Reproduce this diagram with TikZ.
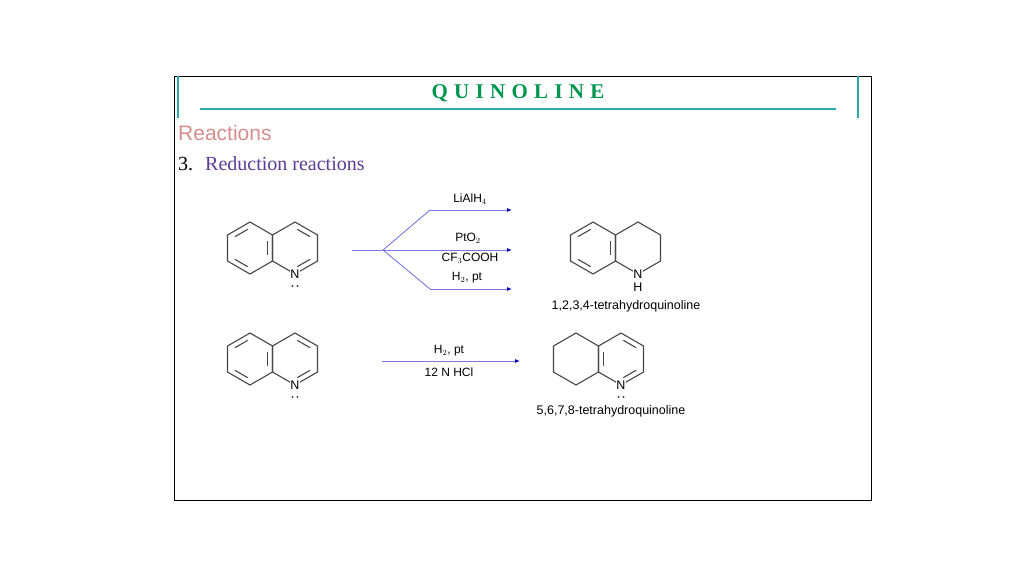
\documentclass[tikz,border=0pt]{standalone}
\usepackage{fontspec}
\setmainfont{Liberation Serif}
\setsansfont{Liberation Sans}
\usetikzlibrary{calc,arrows.meta}
\definecolor{teal1}{RGB}{40,170,180}
\definecolor{titlegreen}{RGB}{0,150,80}
\definecolor{pinkred}{RGB}{215,140,140}
\definecolor{purp}{RGB}{90,60,150}
\definecolor{arrblue}{RGB}{120,120,225}
\definecolor{bondgray}{RGB}{70,70,70}
\tikzset{
  bond/.style={draw=bondgray, line width=1.1pt},
  atom/.style={fill=white, inner sep=0.8pt, font=\sffamily\fontsize{12.5}{12.5}\selectfont},
  lpdot/.style={circle, fill=bondgray, inner sep=0, minimum size=2.2pt},
  reag/.style={font=\sffamily\fontsize{12}{12}\selectfont},
  prod/.style={font=\sffamily\fontsize{12.5}{12.5}\selectfont},
  rxn/.style={draw=arrblue, line width=0.9pt},
  rxnarr/.style={rxn, -{Latex[length=5pt,width=4pt,color=blue!70!black]}},
}
% hexagon, pointy top, radius 26
\newcommand{\hexring}[2]{\draw[bond] ($(#1,#2)+(270:26)$) \foreach \a in {330,30,90,150,210} {-- ($(#1,#2)+(\a:26)$)} -- cycle;}
% inner double line between two vertex angles
\newcommand{\dblbond}[4]{\draw[bond] ($($(#1,#2)+(#3:20)$)!0.13!($(#1,#2)+(#4:20)$)$) -- ($($(#1,#2)+(#3:20)$)!0.87!($(#1,#2)+(#4:20)$)$);}
% lone pair under an atom
\newcommand{\lonepair}[2]{\node[lpdot] at (#1-2.5,#2) {}; \node[lpdot] at (#1+2.5,#2) {};}
\begin{document}
\begin{tikzpicture}[x=1pt,y=-1pt]
\useasboundingbox[fill=white] (0,0) rectangle (1024,576);

% frame and title
\draw[black, line width=0.6pt] (174,76) rectangle (871,500);
\draw[teal1, line width=1.4pt] (178,76) -- (178,118) (858,76) -- (858,118);
\draw[teal1, line width=1.6pt] (200,109) -- (836,109);
\node[titlegreen, font=\addfontfeature{LetterSpace=30}\fontsize{21}{21}\selectfont\bfseries] (title) at (518,93) {QUINOLINE};
\node[anchor=west, pinkred, inner sep=0, font=\sffamily\fontsize{21}{21}\selectfont] (sect) at (178,133) {Reactions};
\node[anchor=west, inner sep=0, font=\fontsize{20}{20}\selectfont] (item) at (178,164) {3.\hspace{12pt}\textcolor{purp}{Reduction reactions}};

% quinoline (row 1)
\hexring{250}{248} \hexring{295}{248}
\dblbond{250}{248}{270}{210} \dblbond{250}{248}{150}{90} \dblbond{250}{248}{330}{30}
\dblbond{295}{248}{270}{330} \dblbond{295}{248}{30}{90}
\node[atom] (n1) at (295,274) {N};
\lonepair{295}{286}

% reagents row 1
\coordinate (s1) at (352,250);
\coordinate (f1) at (383,250);
\coordinate (ka) at (430,210); \coordinate (ea) at (512,210);
\coordinate (eb) at (512,250);
\coordinate (kc) at (430,289); \coordinate (ec) at (512,289);
\draw[rxn] (s1) -- (f1);
\draw[rxn] (f1) -- (ka); \draw[rxnarr] (ka) -- (ea);
\draw[rxnarr] (f1) -- (eb);
\draw[rxn] (f1) -- (kc); \draw[rxnarr] (kc) -- (ec);
\node[reag] (la) at (470,199) {LiAlH$_4$};
\node[reag] (pt) at (468,238) {PtO$_2$};
\node[reag] (tf) at (470,258) {CF$_3$COOH};
\node[reag] (hp) at (467,278) {H$_2$, pt};

% 1,2,3,4-tetrahydroquinoline
\hexring{593}{248} \hexring{638}{248}
\dblbond{593}{248}{270}{210} \dblbond{593}{248}{150}{90} \dblbond{593}{248}{330}{30}
\node[atom] (n2) at (638,274) {N};
\node[atom] (h2) at (638,287) {H};
\node[prod] (p1) at (626,306) {1,2,3,4-tetrahydroquinoline};

% quinoline (row 2)
\hexring{250}{359} \hexring{295}{359}
\dblbond{250}{359}{270}{210} \dblbond{250}{359}{150}{90} \dblbond{250}{359}{330}{30}
\dblbond{295}{359}{270}{330} \dblbond{295}{359}{30}{90}
\node[atom] (n3) at (295,385) {N};
\lonepair{295}{397}

% reagents row 2
\coordinate (s2) at (382,361); \coordinate (e2) at (520,361);
\draw[rxnarr] (s2) -- (e2);
\node[reag] (hp2) at (449,351) {H$_2$, pt};
\node[reag] (hcl) at (449,372) {12 N HCl};

% 5,6,7,8-tetrahydroquinoline
\hexring{576}{359} \hexring{621}{359}
\dblbond{621}{359}{210}{150} \dblbond{621}{359}{270}{330} \dblbond{621}{359}{30}{90}
\node[atom] (n4) at (621,385) {N};
\lonepair{621}{397}
\node[prod] (p2) at (611,411) {5,6,7,8-tetrahydroquinoline};
\end{tikzpicture}
\end{document}
